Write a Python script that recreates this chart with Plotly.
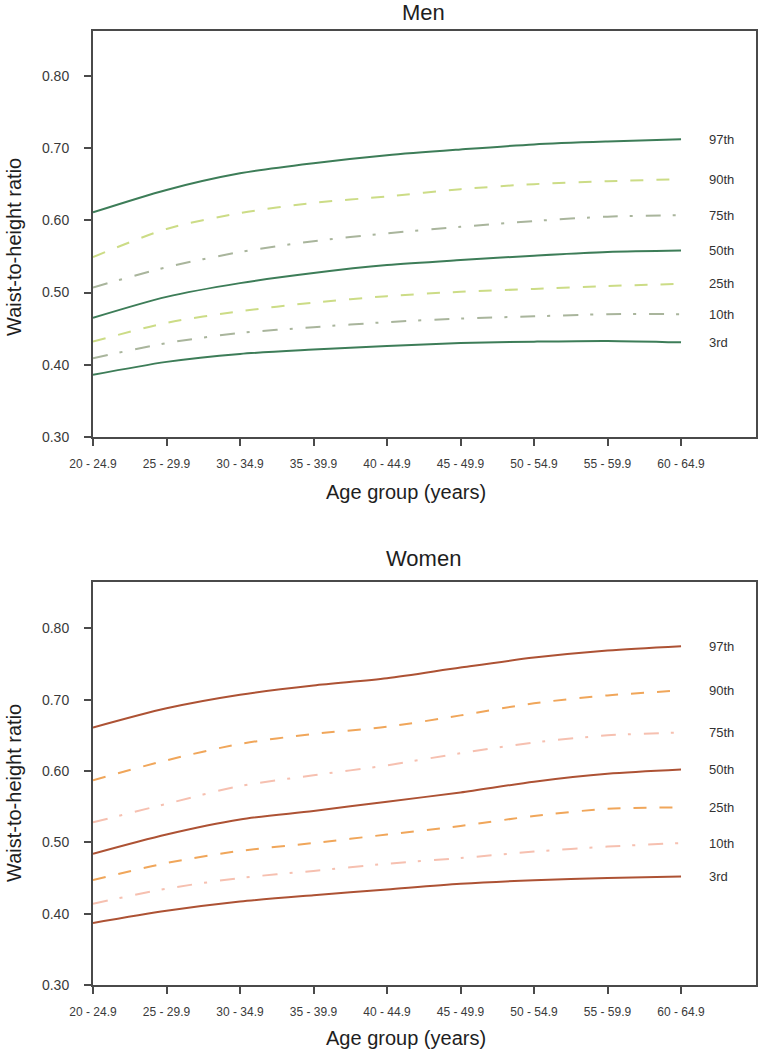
import plotly.graph_objects as go

# ---------------- data ----------------
age_groups = ["20 - 24.9", "25 - 29.9", "30 - 34.9", "35 - 39.9", "40 - 44.9",
              "45 - 49.9", "50 - 54.9", "55 - 59.9", "60 - 64.9"]
percentiles = ["97th", "90th", "75th", "50th", "25th", "10th", "3rd"]

men_97 = [0.611, 0.642, 0.665, 0.679, 0.690, 0.698, 0.705, 0.709, 0.712]
men_90 = [0.549, 0.588, 0.610, 0.624, 0.633, 0.643, 0.650, 0.654, 0.657]
men_75 = [0.507, 0.535, 0.556, 0.571, 0.582, 0.591, 0.599, 0.605, 0.607]
men_50 = [0.465, 0.494, 0.513, 0.527, 0.538, 0.545, 0.551, 0.556, 0.558]
men_25 = [0.432, 0.458, 0.474, 0.486, 0.495, 0.501, 0.505, 0.509, 0.512]
men_10 = [0.409, 0.430, 0.444, 0.452, 0.459, 0.464, 0.467, 0.470, 0.470]
men_03 = [0.386, 0.404, 0.415, 0.421, 0.426, 0.430, 0.432, 0.433, 0.431]

women_97 = [0.661, 0.688, 0.707, 0.720, 0.730, 0.745, 0.759, 0.769, 0.775]
women_90 = [0.587, 0.615, 0.638, 0.652, 0.662, 0.678, 0.695, 0.706, 0.713]
women_75 = [0.528, 0.554, 0.579, 0.594, 0.608, 0.625, 0.640, 0.650, 0.654]
women_50 = [0.484, 0.511, 0.532, 0.544, 0.557, 0.570, 0.585, 0.596, 0.602]
women_25 = [0.447, 0.471, 0.488, 0.499, 0.511, 0.523, 0.537, 0.547, 0.549]
women_10 = [0.414, 0.435, 0.450, 0.460, 0.470, 0.478, 0.487, 0.494, 0.499]
women_03 = [0.387, 0.404, 0.417, 0.426, 0.434, 0.442, 0.447, 0.450, 0.452]

y_ticks = [0.30, 0.40, 0.50, 0.60, 0.70, 0.80]
y_ticktext = ["0.30", "0.40", "0.50", "0.60", "0.70", "0.80"]

men_series = [men_97, men_90, men_75, men_50, men_25, men_10, men_03]
women_series = [women_97, women_90, women_75, women_50, women_25, women_10, women_03]

# ---------------- styles ----------------
FONT = "Liberation Sans, Arial, sans-serif"
AXIS_COLOR = "#4a4a4a"
DASH = "13px,13px"
DASHDOT = "15px,12px,3px,13px"

men_styles = [
    ("#3d7d58", "solid"), ("#ccdc86", DASH), ("#a9b59c", DASHDOT),
    ("#3d7d58", "solid"), ("#ccdc86", DASH), ("#a9b59c", DASHDOT),
    ("#3d7d58", "solid"),
]
women_styles = [
    ("#ad5234", "solid"), ("#f0a65a", DASH), ("#f6c0b0", DASHDOT),
    ("#ad5234", "solid"), ("#f0a65a", DASH), ("#f6c0b0", DASHDOT),
    ("#ad5234", "solid"),
]

x_idx = list(range(len(age_groups)))

W = 760
H = 1059

def px(x):
    return x / W

def py(y):
    return 1 - y / H

fig = go.Figure()

panels = [
    ("x", "y", men_series, men_styles),
    ("x2", "y2", women_series, women_styles),
]

for xa, ya, series, styles in panels:
    for name, vals, (col, dash) in zip(percentiles, series, styles):
        fig.add_trace(go.Scatter(
            x=x_idx, y=vals, mode="lines", name=name, xaxis=xa, yaxis=ya,
            line=dict(color=col, dash=dash, width=2, shape="spline", smoothing=0.8),
            showlegend=False, hoverinfo="skip",
        ))
        fig.add_annotation(
            x=8.35, y=vals[-1], xref=xa, yref=ya, text=name, showarrow=False,
            xanchor="left", yanchor="middle",
            font=dict(family=FONT, size=13, color="#333333"),
        )

xdom = [px(93), px(756)]
top_dom = [py(437), py(31)]
bot_dom = [py(985), py(582)]

def xaxis_def(dom, anchor, show_labels=True, ticks="outside", overlay=None):
    d = dict(
        domain=dom, anchor=anchor, range=[0, 9.02], automargin=False,
        tickmode="array", tickvals=x_idx, ticktext=age_groups,
        ticks=ticks, ticklen=7, tickwidth=2, tickcolor=AXIS_COLOR,
        showgrid=False, zeroline=False,
        tickfont=dict(family=FONT, size=12, color="#3a3a3a"),
        showticklabels=show_labels, ticklabelstandoff=8,
        fixedrange=True,
    )
    if overlay:
        d.update(overlaying=overlay, showline=False)
    else:
        d.update(showline=True, linecolor=AXIS_COLOR, linewidth=2, mirror=True)
    return d

def yaxis_def(dom, anchor, rng, show_labels=True, ticks="outside", overlay=None):
    d = dict(
        domain=dom, anchor=anchor, range=rng, automargin=False,
        tickmode="array", tickvals=y_ticks, ticktext=y_ticktext,
        ticks=ticks, ticklen=7, tickwidth=2, tickcolor=AXIS_COLOR,
        showgrid=False, zeroline=False,
        tickfont=dict(family=FONT, size=14, color="#3a3a3a"),
        showticklabels=show_labels, ticklabelstandoff=12,
        fixedrange=True,
    )
    if overlay:
        d.update(overlaying=overlay, showline=False)
    else:
        d.update(showline=True, linecolor=AXIS_COLOR, linewidth=2, mirror=True)
    return d

top_range = [0.30, 0.862]
bot_range = [0.30, 0.865]

fig.update_layout(
    width=W, height=H,
    margin=dict(l=0, r=0, t=0, b=0, pad=0),
    paper_bgcolor="white", plot_bgcolor="white",
    xaxis=xaxis_def(xdom, "y"),
    yaxis=yaxis_def(top_dom, "x", top_range),
    xaxis2=xaxis_def(xdom, "y2"),
    yaxis2=yaxis_def(bot_dom, "x2", bot_range),
    # overlay axes providing the inward half of the crossing ticks
    xaxis3=xaxis_def(xdom, "y", show_labels=False, ticks="inside", overlay="x"),
    yaxis3=yaxis_def(top_dom, "x", top_range, show_labels=False, ticks="inside", overlay="y"),
    xaxis4=xaxis_def(xdom, "y2", show_labels=False, ticks="inside", overlay="x2"),
    yaxis4=yaxis_def(bot_dom, "x2", bot_range, show_labels=False, ticks="inside", overlay="y2"),
    font=dict(family=FONT, color="#222222"),
)

# titles
title_font = dict(family=FONT, size=22, color="#1e1e1e")
axis_title_font = dict(family=FONT, size=20, color="#1e1e1e")
for text, yy in [("Men", 13), ("Women", 558)]:
    fig.add_annotation(x=px(424), y=py(yy), xref="paper", yref="paper", text=text,
                       showarrow=False, xanchor="center", yanchor="middle", font=title_font)
for yy in [492, 1038]:
    fig.add_annotation(x=px(406), y=py(yy), xref="paper", yref="paper",
                       text="Age group (years)", showarrow=False,
                       xanchor="center", yanchor="middle", font=axis_title_font)
for yy in [247, 793]:
    fig.add_annotation(x=px(14), y=py(yy), xref="paper", yref="paper",
                       text="Waist-to-height ratio", showarrow=False, textangle=-90,
                       xanchor="center", yanchor="middle", font=axis_title_font)

fig.write_html(
    "out.html",
    config={"displayModeBar": False},
    post_script="document.body.style.margin='0';document.body.style.overflow='hidden';",
)
